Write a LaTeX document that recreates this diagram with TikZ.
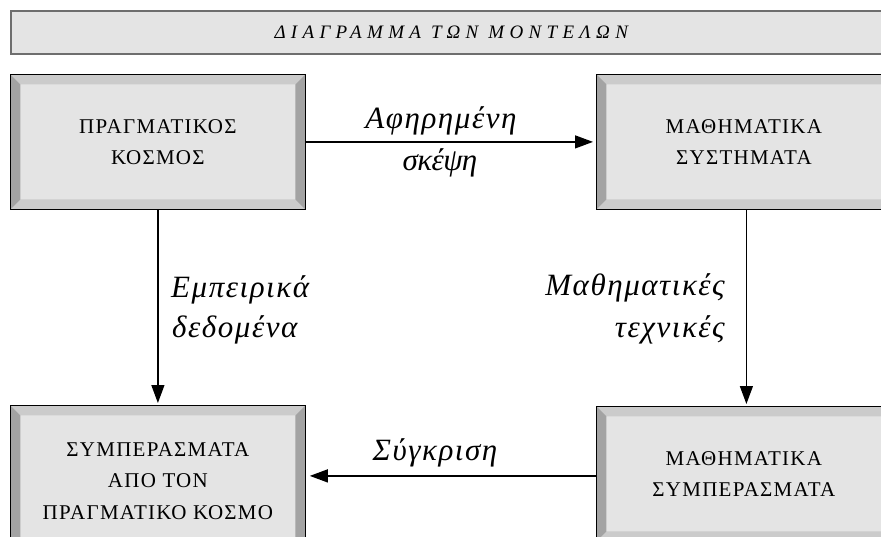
\documentclass[tikz,border=0pt]{standalone}
\usepackage{fontspec}
\setmainfont{Liberation Serif}
\usetikzlibrary{arrows.meta,calc}
\definecolor{faceg}{HTML}{E4E4E4}
\definecolor{bevlight}{HTML}{CBCBCB}
\definecolor{bevdark}{HTML}{A3A3A3}
\definecolor{titleborder}{HTML}{6E6E6E}
\tikzset{
  bevbox/.style={draw=black, line width=0.8pt, fill=faceg,
    minimum width=295pt, minimum height=135pt, inner sep=0pt,
    anchor=north west, align=center,
    font=\fontsize{21}{31.5}\selectfont\addfontfeature{LetterSpace=6},
    path picture={
      \path (path picture bounding box.north west) coordinate (pNW)
            (path picture bounding box.south east) coordinate (pSE);
      \fill[bevlight] (pNW) -- (pNW -| pSE) -- ($(pNW -| pSE)+(-10pt,-10pt)$) -- ($(pNW)+(10pt,-10pt)$) -- cycle;
      \fill[bevlight] (pSE) -- (pSE -| pNW) -- ($(pSE -| pNW)+(10pt,10pt)$) -- ($(pSE)+(-10pt,10pt)$) -- cycle;
      \fill[bevdark] (pNW) -- ($(pNW)+(10pt,-10pt)$) -- ($(pSE -| pNW)+(10pt,10pt)$) -- (pSE -| pNW) -- cycle;
      \fill[bevdark] (pNW -| pSE) -- ($(pNW -| pSE)+(-10pt,-10pt)$) -- ($(pSE)+(-10pt,10pt)$) -- (pSE) -- cycle;
    }},
  lbl/.style={font=\fontsize{31}{34}\selectfont\itshape\addfontfeature{LetterSpace=5}, inner sep=0pt},
  conn/.style={line width=1.3pt, -{Triangle[length=18pt,width=13pt]}}
}
\begin{document}
\begin{tikzpicture}[x=1pt,y=-1pt]
\useasboundingbox (0,0) rectangle (881,536);
\fill[white] (0,0) rectangle (881,536);
\node[draw=titleborder, line width=1.5pt, fill=faceg, minimum width=881pt, minimum height=43pt,
  anchor=north west, inner sep=0pt,
  font=\fontsize{19}{21}\selectfont\itshape\addfontfeature{LetterSpace=28}] (title) at (10,10)
  {ΔΙΑΓΡΑΜΜΑ ΤΩΝ ΜΟΝΤΕΛΩΝ};
\node[bevbox] (real) at (10,74) {ΠΡΑΓΜΑΤΙΚΟΣ\\ΚΟΣΜΟΣ};
\node[bevbox] (math) at (596,74) {ΜΑΘΗΜΑΤΙΚΑ\\ΣΥΣΤΗΜΑΤΑ};
\node[bevbox, minimum height=151pt] (concl) at (10,405) {ΣΥΜΠΕΡΑΣΜΑΤΑ\\ΑΠΟ ΤΟΝ\\ΠΡΑΓΜΑΤΙΚΟ ΚΟΣΜΟ};
\node[bevbox] (mconcl) at (596,406) {ΜΑΘΗΜΑΤΙΚΑ\\ΣΥΜΠΕΡΑΣΜΑΤΑ};

\draw[conn, shorten >=3pt] (real.east) -- (math.west);
\draw[conn, shorten >=2pt] (real.south) -- (concl.north);
\draw[conn, shorten >=2pt] ([xshift=2.5pt]math.south) -- ([xshift=2.5pt]mconcl.north);
\draw[conn, shorten >=4pt] ([yshift=-2pt]mconcl.west) -- ([yshift=-2pt]mconcl.west -| concl.east);

\node[lbl, anchor=base] (l1) at (441,128) {Αφηρημένη};
\node[lbl, anchor=base] (l2) at (440,170) {\addfontfeature{LetterSpace=-2}σκέψη};
\node[lbl, anchor=base west] (l3) at (171,297) {Εμπειρικά};
\node[lbl, anchor=base west] (l4) at (172,337) {δεδομένα};
\node[lbl, anchor=base east] (l5) at (725,295) {Μαθηματικές};
\node[lbl, anchor=base east] (l6) at (725,337) {τεχνικές};
\node[lbl, anchor=base] (l7) at (435,460) {Σύγκριση};
\end{tikzpicture}
\end{document}
